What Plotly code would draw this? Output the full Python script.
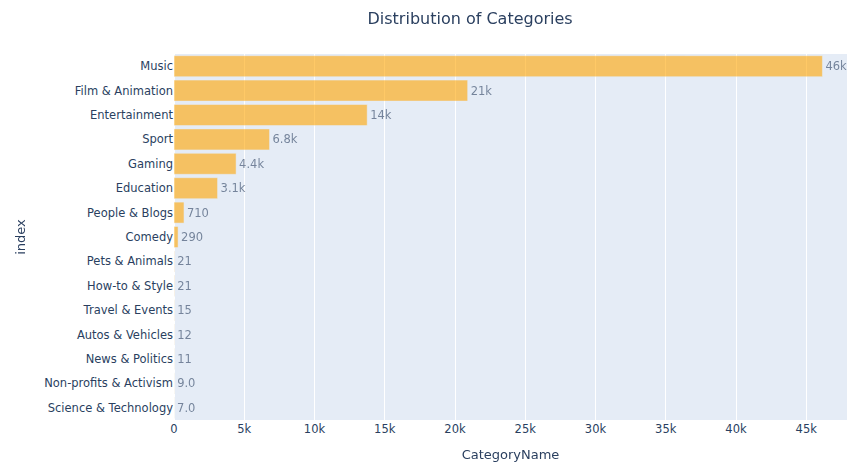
import plotly.graph_objects as go

categories = ["Music", "Film & Animation", "Entertainment", "Sport", "Gaming",
              "Education", "People & Blogs", "Comedy", "Pets & Animals",
              "How-to & Style", "Travel & Events", "Autos & Vehicles",
              "News & Politics", "Non-profits & Activism", "Science & Technology"]
counts = [46150, 20900, 13750, 6800, 4420, 3100, 710, 290, 21, 21, 15, 12, 11, 9, 7]

fig = go.Figure(go.Bar(
    x=counts, y=categories, orientation="h",
    marker=dict(color="orange"), opacity=0.6,
    texttemplate="%{x:.2s}", textposition="outside",
    cliponaxis=False,
))
fig.update_layout(
    template="plotly",
    width=847, height=465,
    margin=dict(l=174, r=0, t=54, b=45),
    title=dict(text="Distribution of Categories", x=0.555, xanchor="center",
               y=1 - 18 / 465, yanchor="middle", font=dict(size=16)),
    bargap=0.14,
    xaxis=dict(title=dict(text="CategoryName", font=dict(size=13)),
               range=[0, 47900], dtick=5000),
    yaxis=dict(title=dict(text="index", font=dict(size=13)), autorange="reversed"),
    font=dict(family="DejaVu Sans", size=11.5),
)
fig.write_html("out.html")
